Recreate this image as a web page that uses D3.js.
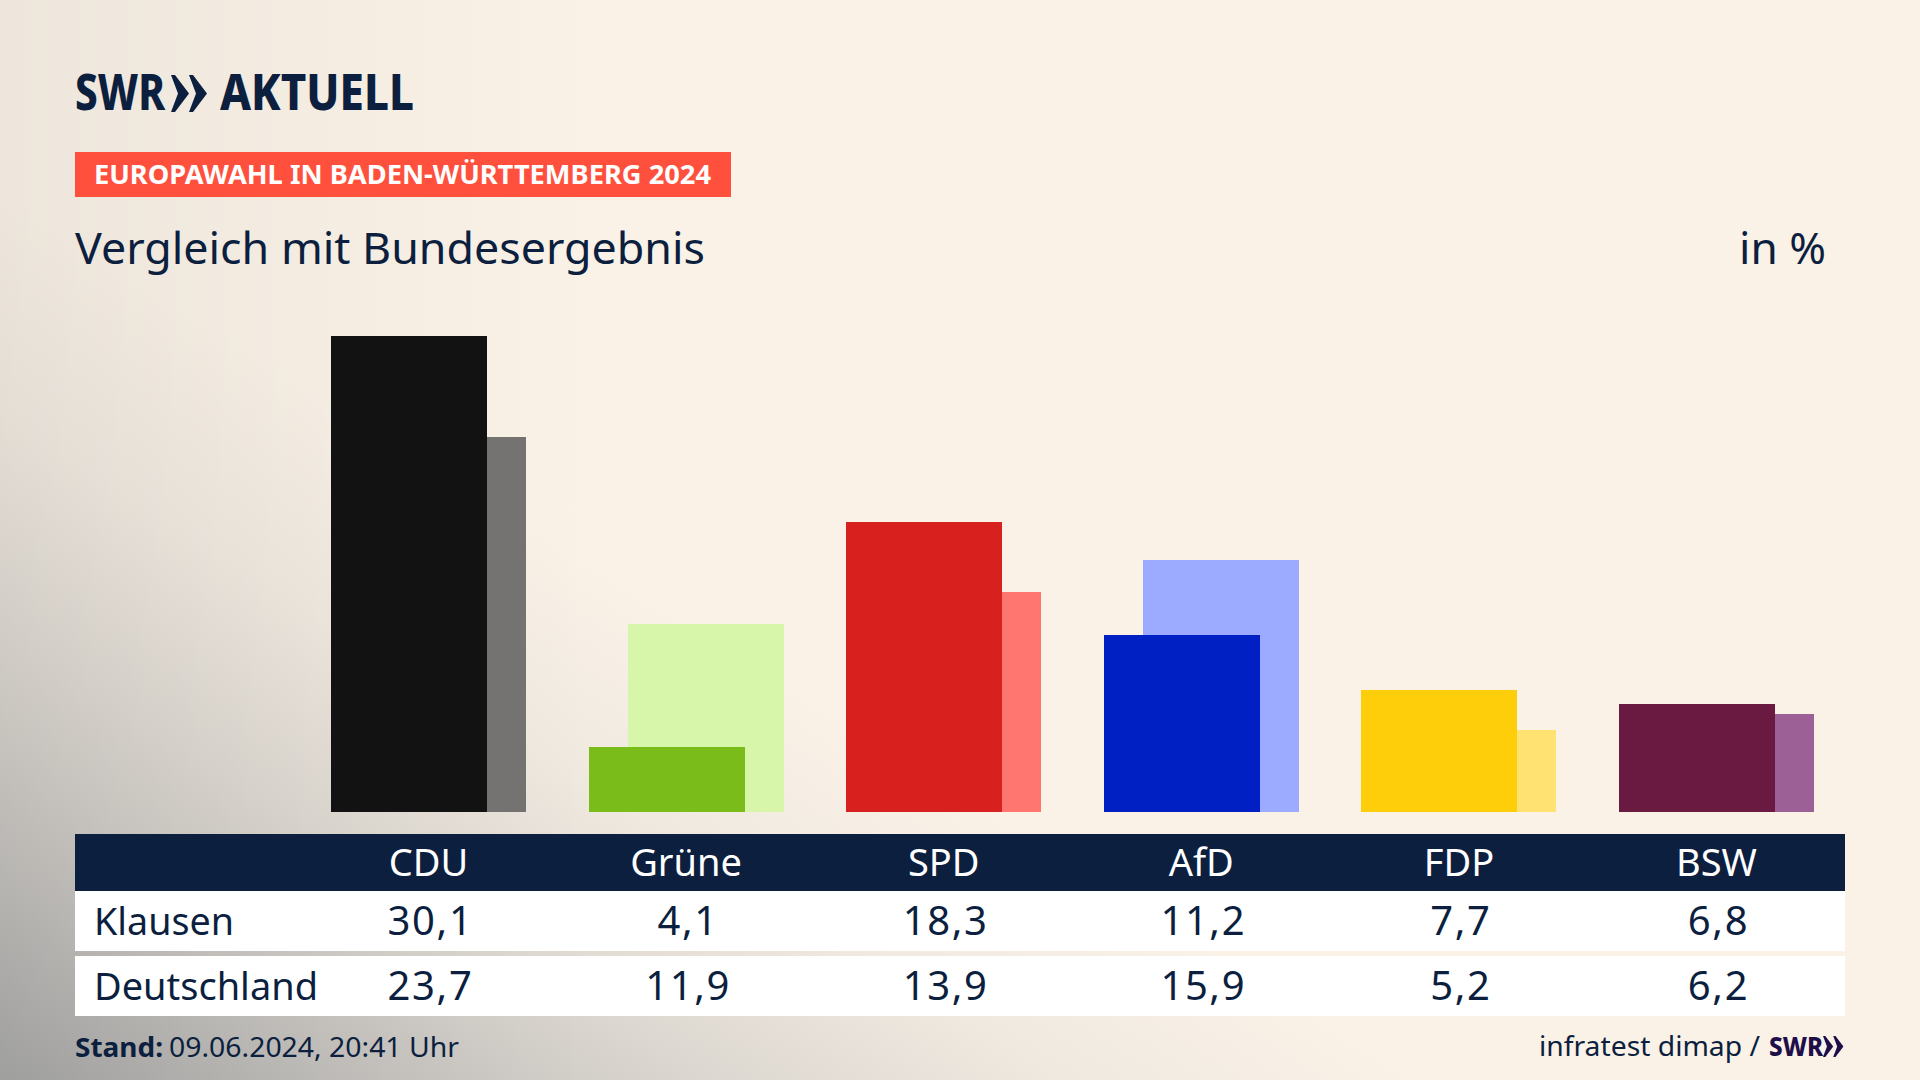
<!DOCTYPE html>
<html>
<head>
<meta charset="utf-8">
<script src="https://cdn.jsdelivr.net/npm/d3@7"></script>
<style>
  html, body { margin: 0; padding: 0; background: #faf2e7; overflow: hidden; }
  text { font-family: "Noto Sans", sans-serif; }
</style>
</head>
<body>
<svg id="chart" width="1920" height="1080" viewBox="0 0 1920 1080"></svg>
<script>
const parties = ["CDU", "Grüne", "SPD", "AfD", "FDP", "BSW"]
const klausen = [30.1, 4.1, 18.3, 11.2, 7.7, 6.8]
const deutschland = [23.7, 11.9, 13.9, 15.9, 5.2, 6.2]
const frontColors = ["#121212", "#7abc19", "#d8201f", "#0020c4", "#ffce0a", "#6a1a40"]
const backColors = ["#747372", "#d7f6aa", "#ff7670", "#9cabff", "#ffe271", "#9c6097"]

const navy = "#0c1f3f"
const svg = d3.select("#chart")
const fmt = v => v.toFixed(1).replace(".", ",")

// Background: cream, grey towards the bottom left corner, a faint shade along the left edge
const defs = svg.append("defs")
const grad = defs.append("linearGradient")
    .attr("id", "bg")
    .attr("gradientUnits", "userSpaceOnUse")
    .attr("x1", 400).attr("y1", 440).attr("x2", 0).attr("y2", 1080)
grad.selectAll("stop")
    .data([[0, "#faf2e7"], [0.25, "#f0e9e0"], [0.5, "#dcd7d0"], [0.72, "#c6c3bf"], [1, "#a7a7a6"]])
    .enter().append("stop")
    .attr("offset", d => d[0])
    .attr("stop-color", d => d[1])
const edge = defs.append("linearGradient").attr("id", "edge")
edge.append("stop").attr("offset", 0).attr("stop-color", "#000").attr("stop-opacity", 0.05)
edge.append("stop").attr("offset", 1).attr("stop-color", "#000").attr("stop-opacity", 0)
svg.append("rect").attr("width", 1920).attr("height", 1080).attr("fill", "url(#bg)")
svg.append("rect").attr("width", 600).attr("height", 1080).attr("fill", "url(#edge)")

// Scales
const x = d3.scaleBand().domain(parties).range([331, 1814]).paddingInner(0.243).paddingOuter(0)
const y = d3.scaleLinear().domain([0, 30]).rangeRound([812, 337.4])
const frontW = Math.round(x.bandwidth() * 0.8)
const backOff = Math.round(x.bandwidth() * 0.2)

// Bars, Deutschland behind and Klausen in front
svg.append("g").selectAll("rect")
    .data(parties)
    .enter().append("rect")
    .attr("x", d => Math.round(x(d)) + backOff)
    .attr("y", (d, i) => y(deutschland[i]))
    .attr("width", frontW)
    .attr("height", (d, i) => y(0) - y(deutschland[i]))
    .attr("fill", (d, i) => backColors[i])
svg.append("g").selectAll("rect")
    .data(parties)
    .enter().append("rect")
    .attr("x", d => Math.round(x(d)))
    .attr("y", (d, i) => y(klausen[i]))
    .attr("width", frontW)
    .attr("height", (d, i) => y(0) - y(klausen[i]))
    .attr("fill", (d, i) => frontColors[i])

function label(txt, px, py, size, opts = {}) {
    const t = svg.append("text")
        .attr("x", px).attr("y", py)
        .attr("font-size", size)
        .attr("fill", opts.fill || navy)
        .attr("font-weight", opts.weight || 400)
        .attr("text-anchor", opts.anchor || "start")
        .text(txt)
    if (opts.len) t.attr("textLength", opts.len).attr("lengthAdjust", "spacingAndGlyphs")
    if (opts.spacing) t.attr("letter-spacing", opts.spacing)
    return t
}

function chevrons(px, py, h, fill) {
    const s = h / 37
    const pts = [[0, 0], [4, 0], [18, 18.5], [4, 37], [0, 37], [7, 18.5]]
    ;[0, 18].forEach(off => {
        svg.append("polygon")
            .attr("points", pts.map(p => [px + (p[0] + off) * s, py + p[1] * s].join(",")).join(" "))
            .attr("fill", fill)
    })
}

// Logo
label("SWR", 75, 110, 49, { weight: 800, len: 90 })
chevrons(171, 75, 37, navy)
label("AKTUELL", 220, 110, 49, { weight: 800, len: 194 })

// Heading
svg.append("rect").attr("x", 75).attr("y", 152).attr("width", 656).attr("height", 45).attr("fill", "#ff4f3d")
label("EUROPAWAHL IN BADEN-WÜRTTEMBERG 2024", 94, 184, 26, { weight: 700, fill: "#fff", len: 617 })
label("Vergleich mit Bundesergebnis", 75, 264, 44, { len: 630 })
label("in %", 1826, 264, 44, { anchor: "end", len: 87 })

// Table
svg.append("rect").attr("x", 75).attr("y", 834).attr("width", 1770).attr("height", 57).attr("fill", navy)
svg.append("rect").attr("x", 75).attr("y", 891).attr("width", 1770).attr("height", 60).attr("fill", "#fff")
svg.append("rect").attr("x", 75).attr("y", 956).attr("width", 1770).attr("height", 60).attr("fill", "#fff")

const cx = d => x(d) + x.bandwidth() / 2
parties.forEach((p, i) => {
    label(p, cx(p), 876, 38, { anchor: "middle", fill: "#fff" })
    label(fmt(klausen[i]), cx(p) + 2, 935, 40, { anchor: "middle", spacing: 1.6 })
    label(fmt(deutschland[i]), cx(p) + 2, 1000, 40, { anchor: "middle", spacing: 1.6 })
})
label("Klausen", 94, 935, 38, { len: 140 })
label("Deutschland", 94, 1000, 38, { len: 224 })

// Footer
label("Stand:", 75, 1057, 27, { weight: 700, len: 88 })
label("09.06.2024, 20:41 Uhr", 169, 1057, 27, { len: 290 })
label("infratest dimap /", 1539, 1056, 28, { len: 221 })
label("SWR", 1769, 1056, 27, { weight: 800, fill: "#1e0f4a", len: 54 })
chevrons(1823, 1036, 21, "#1e0f4a")
</script>
</body>
</html>
